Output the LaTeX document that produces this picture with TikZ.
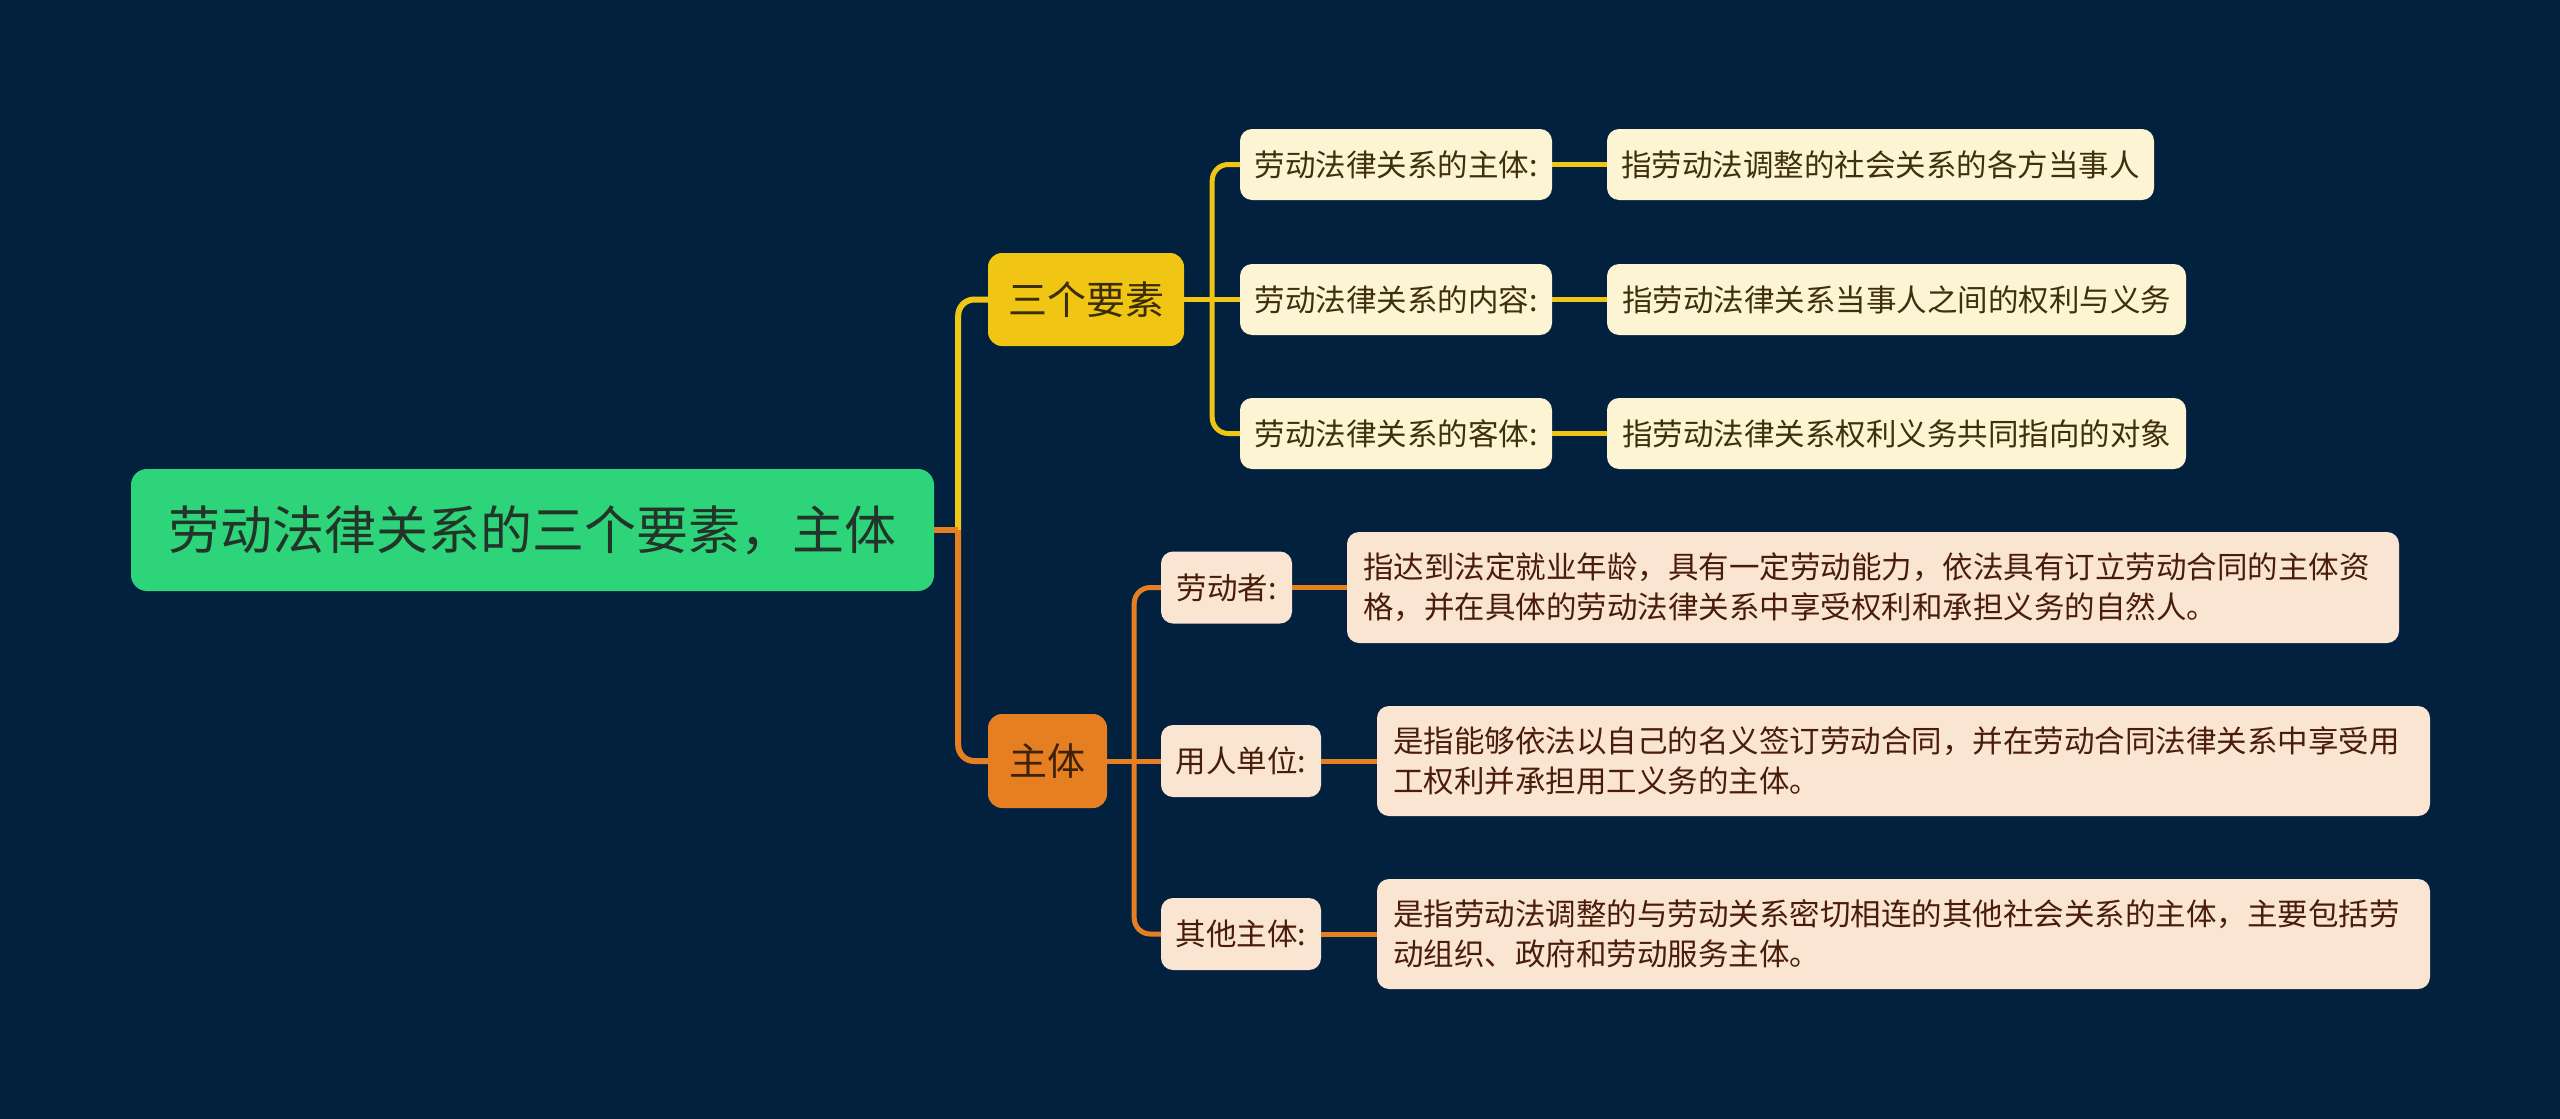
\documentclass[tikz,border=0pt]{standalone}
\usepackage{fontspec}
\setmainfont{Noto Sans CJK SC}
\definecolor{bg}{HTML}{02213F}
\definecolor{rootc}{HTML}{2ED47A}
\definecolor{roottext}{HTML}{223528}
\definecolor{yelc}{HTML}{F0C514}
\definecolor{yeltext}{HTML}{3A2E08}
\definecolor{orac}{HTML}{E67E22}
\definecolor{oratext}{HTML}{3E2208}
\definecolor{yleaf}{HTML}{FDF4D3}
\definecolor{yleaftext}{HTML}{3D310C}
\definecolor{oleaf}{HTML}{FAE5D3}
\definecolor{oleaftext}{HTML}{4A1D0A}
\begin{document}
\begin{tikzpicture}[x=1pt,y=-1pt,
  box/.style={rounded corners=12pt, inner sep=0pt, align=center},
  rootbox/.style={box, rounded corners=16pt, fill=rootc, text=roottext, minimum width=803pt, minimum height=122pt, font=\fontsize{52}{60}\selectfont},
  ybranch/.style={box, rounded corners=14pt, fill=yelc, text=yeltext, minimum height=93pt, font=\fontsize{39}{46}\selectfont},
  obranch/.style={box, rounded corners=14pt, fill=orac, text=oratext, minimum height=94pt, font=\fontsize{38}{46}\selectfont},
  ykey/.style={box, fill=yleaf, text=yleaftext, minimum height=71pt, font=\fontsize{30.5}{40}\selectfont},
  okey/.style={box, fill=oleaf, text=oleaftext, minimum height=72pt, font=\fontsize{30.5}{40}\selectfont},
  odesc/.style={box, fill=oleaf, text=oleaftext, minimum height=110pt, inner xsep=16pt, align=left, font=\fontsize{30.5}{40}\selectfont},
  ylink/.style={draw=yelc, line width=5pt, rounded corners=16pt},
  olink/.style={draw=orac, line width=5pt, rounded corners=16pt}
]
\fill[bg] (0,0) rectangle (2560,1119);
\useasboundingbox (0,0) rectangle (2560,1119);

% nodes
\node[rootbox] (root) at (532.5,530) {劳动法律关系的三个要素，主体};
\node[ybranch, minimum width=196pt] (sany) at (1086,299.5) {三个要素};
\node[obranch, minimum width=119pt] (zt) at (1047.5,761) {主体};

\node[ykey, minimum width=312pt] (k1) at (1396,164.5) {劳动法律关系的主体:};
\node[ykey, minimum width=312pt] (k2) at (1396,299.5) {劳动法律关系的内容:};
\node[ykey, minimum width=312pt] (k3) at (1396,433.5) {劳动法律关系的客体:};
\node[ykey, minimum width=547pt] (d1) at (1880.5,164.5) {指劳动法调整的社会关系的各方当事人};
\node[ykey, minimum width=579pt] (d2) at (1896.5,299.5) {指劳动法律关系当事人之间的权利与义务};
\node[ykey, minimum width=579pt] (d3) at (1896.5,433.5) {指劳动法律关系权利义务共同指向的对象};

\node[okey, minimum width=131pt] (o1) at (1226.5,587.5) {劳动者:};
\node[okey, minimum width=160pt] (o2) at (1241,761) {用人单位:};
\node[okey, minimum width=160pt] (o3) at (1241,934) {其他主体:};
\node[odesc, text width=1020pt, minimum height=111pt] (e1) at (1873,587.5) {指达到法定就业年龄，具有一定劳动能力，依法具有订立劳动合同的主体资\\格，并在具体的劳动法律关系中享受权利和承担义务的自然人。};
\node[odesc, text width=1021pt] (e2) at (1903.5,761) {是指能够依法以自己的名义签订劳动合同，并在劳动合同法律关系中享受用\\工权利并承担用工义务的主体。};
\node[odesc, text width=1021pt] (e3) at (1903.5,934) {是指劳动法调整的与劳动关系密切相连的其他社会关系的主体，主要包括劳\\动组织、政府和劳动服务主体。};

% connectors: first level
\draw[ylink, line width=6pt] (root.east) -- ++(24,0) coordinate (rj);
\draw[ylink, line width=6pt] (rj) |- (sany.west);
\draw[olink, line width=6pt] (rj) |- (zt.west);
\draw[olink, line width=6pt] (root.east) -- (rj);

% second level, yellow
\draw[ylink] (sany.east) -- ++(28,0) coordinate (yj);
\draw[ylink] (yj) |- (k1.west);
\draw[ylink] (sany.east) -- (k2.west);
\draw[ylink] (yj) |- (k3.west);
\draw[ylink] (k1.east) -- (d1.west);
\draw[ylink] (k2.east) -- (d2.west);
\draw[ylink] (k3.east) -- (d3.west);

% second level, orange
\draw[olink] (zt.east) -- ++(27,0) coordinate (oj);
\draw[olink] (oj) |- (o1.west);
\draw[olink] (zt.east) -- (o2.west);
\draw[olink] (oj) |- (o3.west);
\draw[olink] (o1.east) -- (e1.west);
\draw[olink] (o2.east) -- (e2.west);
\draw[olink] (o3.east) -- (e3.west);
\end{tikzpicture}
\end{document}
